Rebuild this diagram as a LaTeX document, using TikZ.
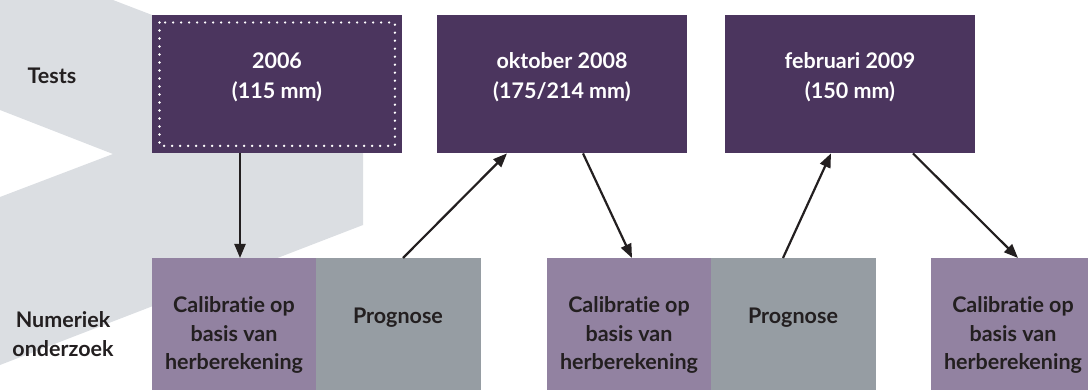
\documentclass[tikz,border=0pt]{standalone}
\usepackage{fontspec}
\setmainfont{Lato}[Ligatures={NoCommon,NoRare}]
\usetikzlibrary{arrows.meta}
\definecolor{bggray}{HTML}{DBDEE2}
\definecolor{darkpurple}{HTML}{4B355E}
\definecolor{lightpurple}{HTML}{9282A1}
\definecolor{progray}{HTML}{969DA3}
\definecolor{txtdark}{HTML}{231F20}
\tikzset{
  testbox/.style={fill=darkpurple, draw=none, minimum width=250pt, minimum height=138pt, anchor=north west, inner sep=0pt},
  calbox/.style={fill=lightpurple, draw=none, minimum width=164pt, minimum height=140pt, anchor=north west, inner sep=0pt},
  progbox/.style={fill=progray, draw=none, minimum width=165pt, minimum height=140pt, anchor=north west, inner sep=0pt},
  whitetxt/.style={text=white, font=\fontsize{21.5}{30}\selectfont\bfseries, align=center},
  darktxt/.style={text=txtdark, font=\fontsize{21.5}{28.5}\selectfont\bfseries, align=center},
  arr/.style={draw=txtdark, line width=2.2pt, -{Triangle[length=14pt,width=11pt]}},
}
\begin{document}
\begin{tikzpicture}[x=1pt,y=-1pt]
\useasboundingbox (0,0) rectangle (1088,390);
\clip (0,0) rectangle (1088,390);
% background chevron
\fill[bggray] (0,0) -- (113,0) -- (363,96) -- (363,225) -- (0,365) -- (0,197) -- (113,154) -- (0,110) -- cycle;
% row labels
\node[darktxt] (tests) at (52,76) {Tests};
\node[darktxt] (num) at (63,334) {Numeriek\\onderzoek};
% top boxes
\node[testbox] (t1) at (152,15) {};
\node[testbox] (t2) at (437,15) {};
\node[testbox] (t3) at (725,15) {};
\draw[white, line width=2.6pt, line cap=round, dash pattern=on 0pt off 8pt]
  ([shift={(7.5pt,-7.5pt)}]t1.north west) rectangle ([shift={(-7.5pt,7.5pt)}]t1.south east);
\node[whitetxt] at (277,77) {2006\\(115 mm)};
\node[whitetxt] at (562,77) {oktober 2008\\(175/214 mm)};
\node[whitetxt] at (850,77) {februari 2009\\(150 mm)};
% bottom boxes
\node[calbox] (c1) at (152,258) {};
\node[progbox] (p1) at (316,258) {};
\node[calbox] (c2) at (547,258) {};
\node[progbox] (p2) at (711,258) {};
\node[calbox] (c3) at (931,258) {};
\node[darktxt] at (234,335) {Calibratie op\\basis van\\herberekening};
\node[darktxt] at (398,318) {Prognose};
\node[darktxt] at (629,335) {Calibratie op\\basis van\\herberekening};
\node[darktxt] at (793,318) {Prognose};
\node[darktxt] at (1013,335) {Calibratie op\\basis van\\herberekening};
% arrows
\draw[arr] ([xshift=88pt]t1.south west) -- ([xshift=88pt]c1.north west);
\draw[arr] ([xshift=87pt]p1.north west) -- ([xshift=70pt]t2.south west);
\draw[arr] ([xshift=146pt]t2.south west) -- ([xshift=85pt]c2.north west);
\draw[arr] ([xshift=72pt]p2.north west) -- ([xshift=106pt]t3.south west);
\draw[arr] ([xshift=188pt]t3.south west) -- ([xshift=87pt]c3.north west);
\end{tikzpicture}
\end{document}
